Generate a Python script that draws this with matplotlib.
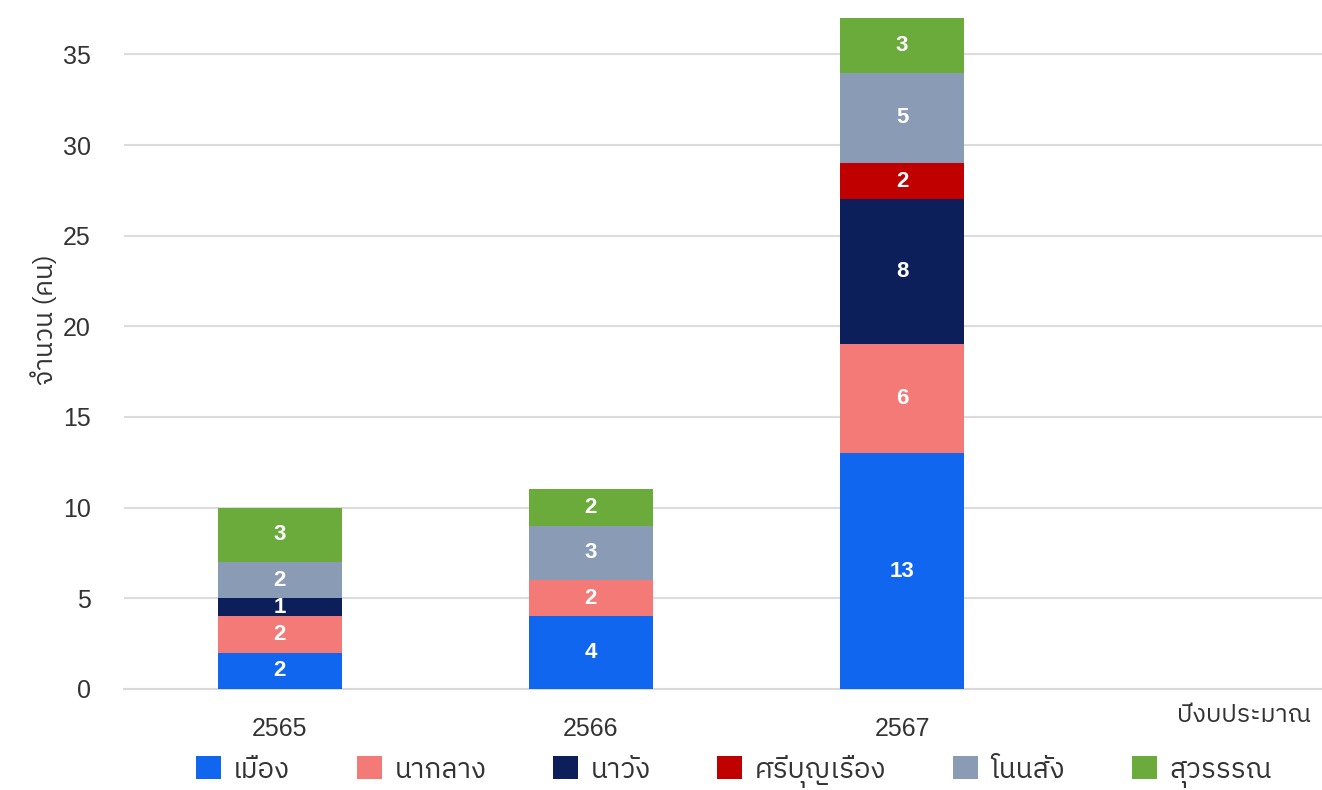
import matplotlib
matplotlib.use("Agg")
import matplotlib.pyplot as plt
from matplotlib import font_manager
from matplotlib.ft2font import FT2Font
import numpy as np

# ---- data ----
years = ["2565", "2566", "2567"]
districts = ["เมือง", "นากลาง", "นาวัง", "ศรีบุญเรือง", "โนนสัง", "สุวรรรณ"]
muang = [2, 4, 13]
naklang = [2, 2, 6]
nawang = [1, 0, 8]
sriboonrueang = [0, 0, 2]
nonsang = [2, 3, 5]
suwan = [3, 2, 3]
series = [muang, naklang, nawang, sriboonrueang, nonsang, suwan]
colors = ["#1166f0", "#f47a78", "#0c1f5a", "#c00000", "#8a9bb5", "#6aab3c"]
yticks = [0, 5, 10, 15, 20, 25, 30, 35]

# ---- find a font with Thai glyphs ----
thai_family = None
for f in font_manager.fontManager.ttflist:
    try:
        cm = FT2Font(f.fname).get_charmap()
        if 0x0E01 in cm and 0x0E40 in cm:
            thai_family = f.name
            if "Sans" in f.name:
                break
    except Exception:
        pass
fams = ([thai_family] if thai_family else []) + ["DejaVu Sans"]
plt.rcParams["font.family"] = fams
num_font = ["Liberation Sans", "DejaVu Sans"]

fig = plt.figure(figsize=(13.22, 7.90), dpi=100)
ax = fig.add_axes([0.094, 0.128, 0.906, 0.872])

x = np.arange(len(years))
bottom = np.zeros(len(years))
for vals, col, name in zip(series, colors, districts):
    v = np.array(vals, dtype=float)
    ax.bar(x, v, 0.4, bottom=bottom, color=col, label=name, zorder=3)
    for xi, vi, bi in zip(x, v, bottom):
        if vi > 0:
            ax.text(xi, bi + vi / 2, f"{int(vi)}", ha="center", va="center",
                    color="white", fontsize=16, fontweight="bold", zorder=4,
                    family=num_font)
    bottom += v

ax.set_xlim(-0.5, 3.35)
ax.set_ylim(0, 38)
ax.set_yticks(yticks)
ax.set_xticks(x)
ax.set_xticklabels(years)
for lab in ax.get_xticklabels() + ax.get_yticklabels():
    lab.set_family(num_font)
    lab.set_fontsize(18)
    lab.set_color("#333333")
ax.tick_params(axis="y", length=0, pad=24)
ax.tick_params(axis="x", length=0, pad=20)
ax.grid(axis="y", color="#dcdcdc", linewidth=1.5, zorder=0)
for s in ["top", "right", "left"]:
    ax.spines[s].set_visible(False)
ax.spines["bottom"].set_color("#d9d9d9")
ax.spines["bottom"].set_linewidth(1.5)

fig.text(0.034, 0.595, "จำนวน (คน)", rotation=90, ha="center", va="center",
         fontsize=19, color="#333333")
fig.text(0.992, 0.094, "ปีงบประมาณ", ha="right", va="center", fontsize=18,
         color="#333333")

leg = fig.legend(loc="center", bbox_to_anchor=(0.555, 0.024), ncol=6,
                 frameon=False, fontsize=20, handlelength=0.9, handleheight=0.9,
                 columnspacing=2.4, handletextpad=0.45, borderpad=0.0)
for t in leg.get_texts():
    t.set_color("#333333")

fig.savefig("out.png", dpi=100)
